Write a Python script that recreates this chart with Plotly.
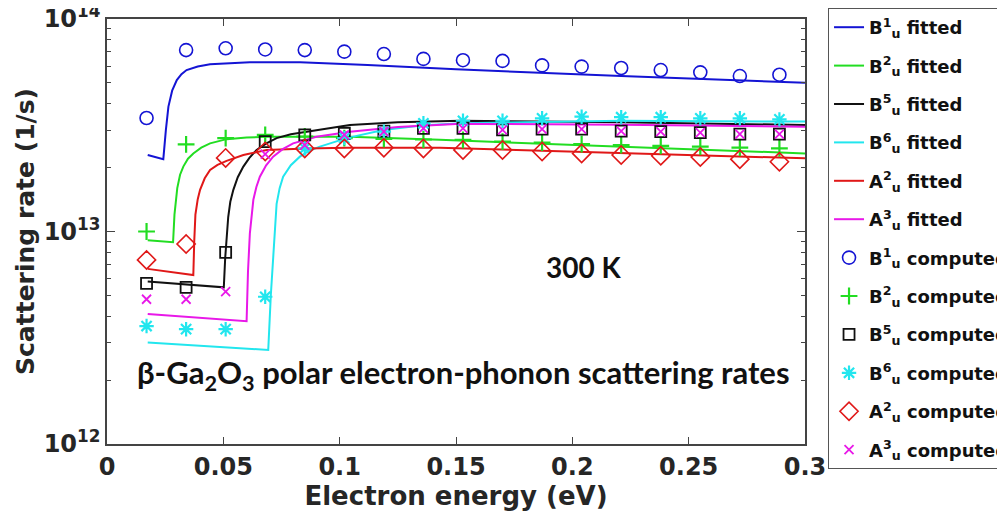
import plotly.graph_objects as go

# ---------------- data ----------------
E_comp = [0.017, 0.034, 0.051, 0.068, 0.085, 0.102, 0.119, 0.136, 0.153,
          0.170, 0.187, 0.204, 0.221, 0.238, 0.255, 0.272, 0.289]

B1_comp = [3.42e13, 7.14e13, 7.28e13, 7.19e13, 7.14e13, 7.02e13, 6.84e13, 6.49e13, 6.40e13,
           6.35e13, 6.05e13, 5.97e13, 5.88e13, 5.75e13, 5.61e13, 5.39e13, 5.47e13]
B2_comp = [1.00e13, 2.57e13, 2.75e13, 2.85e13, 2.80e13, 2.75e13, 2.73e13, 2.71e13, 2.70e13,
           2.65e13, 2.62e13, 2.58e13, 2.55e13, 2.53e13, 2.51e13, 2.48e13, 2.46e13]
B5_comp = [5.70e12, 5.46e12, 7.97e12, 2.65e13, 2.85e13, 2.90e13, 2.97e13, 3.06e13, 3.06e13,
           3.01e13, 3.03e13, 3.03e13, 2.97e13, 2.95e13, 2.92e13, 2.87e13, 2.87e13]
B6_comp = [3.59e12, 3.47e12, 3.47e12, 4.93e12, 2.46e13, 2.75e13, 2.95e13, 3.23e13, 3.32e13,
           3.32e13, 3.41e13, 3.47e13, 3.45e13, 3.45e13, 3.41e13, 3.41e13, 3.37e13]
A2_comp = [7.35e12, 8.73e12, 2.22e13, 2.38e13, 2.46e13, 2.46e13, 2.48e13, 2.46e13, 2.42e13,
           2.42e13, 2.38e13, 2.33e13, 2.29e13, 2.27e13, 2.24e13, 2.19e13, 2.13e13]
A3_comp = [4.80e12, 4.80e12, 5.21e12, 2.31e13, 2.55e13, 2.85e13, 2.95e13, 3.06e13, 3.06e13,
           3.01e13, 3.03e13, 3.03e13, 2.97e13, 2.95e13, 2.92e13, 2.87e13, 2.87e13]

E_B1_fit = [0.0175, 0.0242, 0.0253, 0.0264, 0.0280, 0.0300, 0.0320, 0.0342, 0.0390, 0.0443,
            0.0614, 0.083, 0.112, 0.150, 0.221, 0.300]
R_B1_fit = [2.29e13, 2.19e13, 3.00e13, 3.87e13, 4.60e13, 5.16e13, 5.50e13, 5.75e13, 5.98e13, 6.12e13,
            6.26e13, 6.26e13, 6.08e13, 5.80e13, 5.39e13, 5.01e13]

E_B2_fit = [0.0175, 0.0284, 0.0290, 0.0296, 0.0302, 0.0314, 0.0328, 0.0348, 0.0371, 0.0405,
            0.0443, 0.0514, 0.060, 0.0686, 0.1044, 0.143, 0.221, 0.300]
R_B2_fit = [9.1e12, 8.9e12, 1.20e13, 1.42e13, 1.60e13, 1.85e13, 2.02e13, 2.20e13, 2.33e13, 2.48e13,
            2.60e13, 2.72e13, 2.77e13, 2.79e13, 2.79e13, 2.70e13, 2.50e13, 2.33e13]

E_B5_fit = [0.0175, 0.0502, 0.0508, 0.0514, 0.0521, 0.0530, 0.0543, 0.0562, 0.0586, 0.0612,
            0.0643, 0.0685, 0.0729, 0.0790, 0.0858, 0.095, 0.1044, 0.125, 0.152, 0.221, 0.300]
R_B5_fit = [5.81e12, 5.46e12, 7.5e12, 9.5e12, 1.17e13, 1.38e13, 1.57e13, 1.80e13, 2.02e13, 2.22e13,
            2.42e13, 2.60e13, 2.75e13, 2.87e13, 2.95e13, 3.07e13, 3.17e13, 3.27e13, 3.32e13, 3.27e13, 3.17e13]

E_B6_fit = [0.0175, 0.0693, 0.0704, 0.0715, 0.0722, 0.0729, 0.0742, 0.0757, 0.0790, 0.0829,
            0.0870, 0.0915, 0.103, 0.1187, 0.135, 0.152, 0.221, 0.300]
R_B6_fit = [3.0e12, 2.77e12, 5.0e12, 8.2e12, 1.10e13, 1.35e13, 1.60e13, 1.81e13, 2.05e13, 2.25e13,
            2.40e13, 2.51e13, 2.75e13, 3.00e13, 3.15e13, 3.23e13, 3.32e13, 3.29e13]

E_A2_fit = [0.0175, 0.0371, 0.0375, 0.0380, 0.0390, 0.0400, 0.0420, 0.0443, 0.0475, 0.0514,
            0.0586, 0.0686, 0.0858, 0.103, 0.143, 0.221, 0.300]
R_A2_fit = [6.67e12, 6.24e12, 9.0e12, 1.20e13, 1.42e13, 1.57e13, 1.78e13, 1.95e13, 2.06e13, 2.15e13,
            2.29e13, 2.42e13, 2.46e13, 2.48e13, 2.48e13, 2.35e13, 2.21e13]

E_A3_fit = [0.0175, 0.0600, 0.0606, 0.0614, 0.0629, 0.0642, 0.0657, 0.0684, 0.0714, 0.0755,
            0.080, 0.090, 0.1044, 0.125, 0.152, 0.221, 0.300]
R_A3_fit = [4.09e12, 3.78e12, 6.5e12, 9.8e12, 1.41e13, 1.62e13, 1.81e13, 2.05e13, 2.25e13, 2.44e13,
            2.60e13, 2.79e13, 2.95e13, 3.10e13, 3.21e13, 3.18e13, 3.11e13]

x_ticks = [0, 0.05, 0.1, 0.15, 0.2, 0.25, 0.3]
x_ticklabels = ["0", "0.05", "0.1", "0.15", "0.2", "0.25", "0.3"]
y_ticks = [1e12, 1e13, 1e14]
y_ticklabels = ["10<sup>12</sup>", "10<sup>13</sup>", "10<sup>14</sup>"]

# ---------------- styles ----------------
BLUE, GREEN, BLACK, CYAN, RED, MAGENTA = "#1414d4", "#22dd22", "#111111", "#22e6ee", "#e01818", "#e818e8"
FONT = "DejaVu Sans"
TXT = "#262626"

fits = [
    ("B", "1", E_B1_fit, R_B1_fit, BLUE),
    ("B", "2", E_B2_fit, R_B2_fit, GREEN),
    ("B", "5", E_B5_fit, R_B5_fit, BLACK),
    ("B", "6", E_B6_fit, R_B6_fit, CYAN),
    ("A", "2", E_A2_fit, R_A2_fit, RED),
    ("A", "3", E_A3_fit, R_A3_fit, MAGENTA),
]
comps = [
    ("B", "1", B1_comp, BLUE, "circle-open", 13, 1.6),
    ("B", "2", B2_comp, GREEN, "cross-thin-open", 12, 2.2),
    ("B", "5", B5_comp, BLACK, "square-open", 11, 1.8),
    ("B", "6", B6_comp, CYAN, "asterisk-open", 12, 2.2),
    ("A", "2", A2_comp, RED, "diamond-open", 14, 1.6),
    ("A", "3", A3_comp, MAGENTA, "x-thin-open", 9, 1.8),
]

fig = go.Figure()
for i, (l, n, ex, ry, col) in enumerate(fits):
    fig.add_trace(go.Scatter(
        x=ex, y=ry, mode="lines", line=dict(color=col, width=2),
        name=f"{l}<sup>{n}</sup><sub>u</sub> fitted", legendgroup=f"f{i}"))
for i, (l, n, ry, col, sym, sz, lw) in enumerate(comps):
    fig.add_trace(go.Scatter(
        x=E_comp, y=ry, mode="markers",
        marker=dict(symbol=sym, size=sz, color=col, line=dict(color=col, width=lw)),
        name=f"{l}<sup>{n}</sup><sub>u</sub> computed", legendgroup=f"c{i}"))

minor_vals = [m * 10 ** e for e in (12, 13) for m in range(2, 10)]

# the page body adds an 8 px margin, so the figure is drawn 8 px smaller
fig.update_layout(
    width=997, height=507,
    margin=dict(l=99, r=200, t=11, b=71, autoexpand=False),
    paper_bgcolor="white", plot_bgcolor="white",
    font=dict(family=FONT, color=TXT),
    showlegend=True,
    legend=dict(
        xref="container", yref="container",
        x=0.8225, y=1.0, xanchor="left", yanchor="top",
        bgcolor="white", bordercolor="#555555", borderwidth=1,
        font=dict(family=FONT, size=18, color="#111111", weight="bold"),
        itemwidth=30, tracegroupgap=12, maxheight=507,
    ),
    xaxis=dict(
        range=[0, 0.3], tickvals=x_ticks, ticktext=x_ticklabels, automargin=False,
        ticks="inside", ticklen=7, tickwidth=1.2, tickcolor="#444444",
        showline=True, linecolor="#444444", linewidth=1.5, mirror="ticks",
        showgrid=False, zeroline=False, ticklabeloverflow="allow",
        tickfont=dict(family=FONT, size=24, color=TXT, weight="bold"),
        title=dict(text="Electron energy (eV)", standoff=4,
                   font=dict(family=FONT, size=26, color=TXT, weight="bold")),
    ),
    yaxis=dict(
        type="log", range=[12, 14], tickvals=y_ticks, ticktext=y_ticklabels, automargin=False,
        ticks="inside", ticklen=8, tickwidth=1.2, tickcolor="#444444",
        minor=dict(tickvals=minor_vals, ticks="inside", ticklen=4, tickcolor="#444444", tickwidth=1.2),
        showline=True, linecolor="#444444", linewidth=1.5, mirror="ticks",
        showgrid=False, zeroline=False, ticklabeloverflow="allow",
        tickfont=dict(family=FONT, size=24, color=TXT, weight="bold"),
        title=dict(text="Scattering rate (1/s)", standoff=2,
                   font=dict(family=FONT, size=25, color=TXT, weight="bold")),
    ),
    annotations=[
        dict(x=0.205, y=12.834, xref="x", yref="y", text="300 K", showarrow=False,
             font=dict(family="Lato", size=28, color="#111111", weight="bold")),
        dict(x=0.1532, y=12.325, xref="x", yref="y",
             text="β-Ga<sub>2</sub>O<sub>3</sub> polar electron-phonon scattering rates",
             showarrow=False,
             font=dict(family="Lato", size=31, color="#111111", weight="bold")),
    ],
)

fig.write_html("out.html")
